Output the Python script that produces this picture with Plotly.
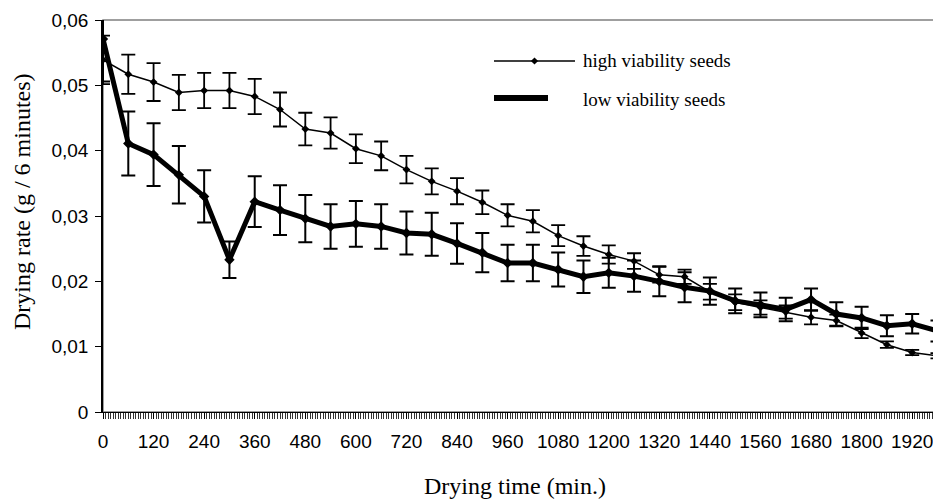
import plotly.graph_objects as go

# ---- data ----
time_min = list(range(0, 1981, 60))

high_viability = [0.0539, 0.0517, 0.0505, 0.0489, 0.0492, 0.0492, 0.0483, 0.0463, 0.0433, 0.0427,
                  0.0403, 0.0392, 0.0371, 0.0353, 0.0338, 0.0321, 0.0301, 0.0292, 0.0270, 0.0254,
                  0.0241, 0.0231, 0.0210, 0.0207, 0.0184, 0.0168, 0.0160, 0.0153, 0.0145, 0.0140,
                  0.0121, 0.0103, 0.0091, 0.0086]
high_err = [0.0037, 0.0030, 0.0029, 0.0027, 0.0027, 0.0027, 0.0027, 0.0026, 0.0025, 0.0024,
            0.0022, 0.0022, 0.0021, 0.0020, 0.0020, 0.0018, 0.0017, 0.0017, 0.0016, 0.0015,
            0.0014, 0.0012, 0.0012, 0.0011, 0.0012, 0.0012, 0.0011, 0.0010, 0.0011, 0.0009,
            0.0008, 0.0005, 0.0004, 0.0004]

low_viability = [0.0571, 0.0411, 0.0394, 0.0363, 0.0330, 0.0233, 0.0322, 0.0309, 0.0296, 0.0284,
                 0.0288, 0.0284, 0.0274, 0.0272, 0.0258, 0.0244, 0.0228, 0.0228, 0.0218, 0.0207,
                 0.0213, 0.0208, 0.0200, 0.0191, 0.0185, 0.0170, 0.0164, 0.0157, 0.0172, 0.0150,
                 0.0144, 0.0132, 0.0135, 0.0124]
low_err = [0.0065, 0.0049, 0.0048, 0.0044, 0.0040, 0.0028, 0.0039, 0.0038, 0.0036, 0.0034,
           0.0035, 0.0034, 0.0033, 0.0033, 0.0031, 0.0030, 0.0028, 0.0028, 0.0026, 0.0025,
           0.0023, 0.0024, 0.0023, 0.0023, 0.0021, 0.0019, 0.0019, 0.0018, 0.0017, 0.0018,
           0.0017, 0.0016, 0.0015, 0.0016]

x_tick_vals = list(range(0, 1921, 120))
x_tick_text = [str(v) for v in x_tick_vals]
y_tick_vals = [0, 0.01, 0.02, 0.03, 0.04, 0.05, 0.06]
y_tick_text = ["0", "0,01", "0,02", "0,03", "0,04", "0,05", "0,06"]

series_names = ["high viability seeds", "low viability seeds"]

# ---- figure geometry (page body has an 8px margin) ----
OFF = 8
W, H = 941 - OFF, 503 - OFF
ML, MR, MT, MB = 103 - OFF, 1, 20 - OFF, 91
PW, PH = W - ML - MR, H - MT - MB


def px_x(sx):
    return (sx - OFF - ML) / PW


def px_y(sy):
    return (H - MB - (sy - OFF)) / PH


fig = go.Figure()

fig.add_trace(go.Scatter(
    x=time_min, y=low_viability, mode="lines+markers", name=series_names[1],
    line=dict(color="black", width=5),
    marker=dict(symbol="diamond", size=8, color="black"),
    error_y=dict(type="data", array=low_err, visible=True, color="black", thickness=2, width=7),
    showlegend=False,
))
fig.add_trace(go.Scatter(
    x=time_min, y=high_viability, mode="lines+markers", name=series_names[0],
    line=dict(color="black", width=1.5),
    marker=dict(symbol="diamond", size=6, color="black"),
    error_y=dict(type="data", array=high_err, visible=True, color="black", thickness=1.8, width=7),
    showlegend=False,
))

serif = "Liberation Serif, Times New Roman, serif"
sans = "Liberation Sans, Arial, sans-serif"

shapes = [
    dict(type="rect", xref="paper", yref="paper", x0=0, x1=1, y0=0, y1=1,
         line=dict(color="#808080", width=1.5), layer="below"),
    dict(type="line", xref="paper", yref="paper", x0=px_x(494), x1=px_x(575),
         y0=px_y(61), y1=px_y(61), line=dict(color="black", width=1.5)),
    dict(type="line", xref="paper", yref="paper", x0=px_x(494), x1=px_x(548),
         y0=px_y(98), y1=px_y(98), line=dict(color="black", width=6)),
]
cx, cy, d = 534.5, 61, 3.6
shapes.append(dict(
    type="path", xref="paper", yref="paper",
    path=(f"M{px_x(cx)},{px_y(cy - d)} L{px_x(cx + d)},{px_y(cy)} "
          f"L{px_x(cx)},{px_y(cy + d)} L{px_x(cx - d)},{px_y(cy)} Z"),
    fillcolor="black", line=dict(color="black", width=0)))

annotations = [
    dict(text=series_names[0], xref="paper", yref="paper", x=px_x(581), y=px_y(61),
         xanchor="left", yanchor="middle", showarrow=False,
         font=dict(family=serif, size=19, color="black")),
    dict(text=series_names[1], xref="paper", yref="paper", x=px_x(581), y=px_y(99),
         xanchor="left", yanchor="middle", showarrow=False,
         font=dict(family=serif, size=19, color="black")),
    dict(text="Drying time (min.)", xref="paper", yref="paper", x=px_x(515), y=px_y(486),
         xanchor="center", yanchor="middle", showarrow=False,
         font=dict(family=serif, size=24, color="black")),
    dict(text="Drying rate (g / 6 minutes)", xref="paper", yref="paper", x=px_x(22), y=px_y(202),
         xanchor="center", yanchor="middle", showarrow=False, textangle=-90,
         font=dict(family=serif, size=24, color="black")),
]

fig.update_layout(
    width=W, height=H, autosize=False,
    margin=dict(l=ML, r=MR, t=MT, b=MB, pad=0),
    paper_bgcolor="white", plot_bgcolor="white",
    showlegend=False,
    shapes=shapes, annotations=annotations,
    xaxis=dict(
        range=[0, 1986], showgrid=False, zeroline=False,
        showline=True, linecolor="black", linewidth=1,
        tickmode="array", tickvals=x_tick_vals, ticktext=x_tick_text,
        ticks="outside", ticklen=6, tickcolor="black", tickwidth=1,
        minor=dict(dtick=6, tick0=0, ticks="outside", ticklen=6, tickcolor="#333333", tickwidth=1),
        tickfont=dict(family=sans, size=19, color="black"),
        ticklabelstandoff=6,
    ),
    yaxis=dict(
        range=[0, 0.06], showgrid=False, zeroline=False,
        showline=True, linecolor="black", linewidth=1.5,
        tickmode="array", tickvals=y_tick_vals, ticktext=y_tick_text,
        ticks="outside", ticklen=6, tickcolor="black", tickwidth=1,
        tickfont=dict(family=sans, size=19, color="black"),
        ticklabelstandoff=3,
    ),
)

fig.write_html("out.html")
